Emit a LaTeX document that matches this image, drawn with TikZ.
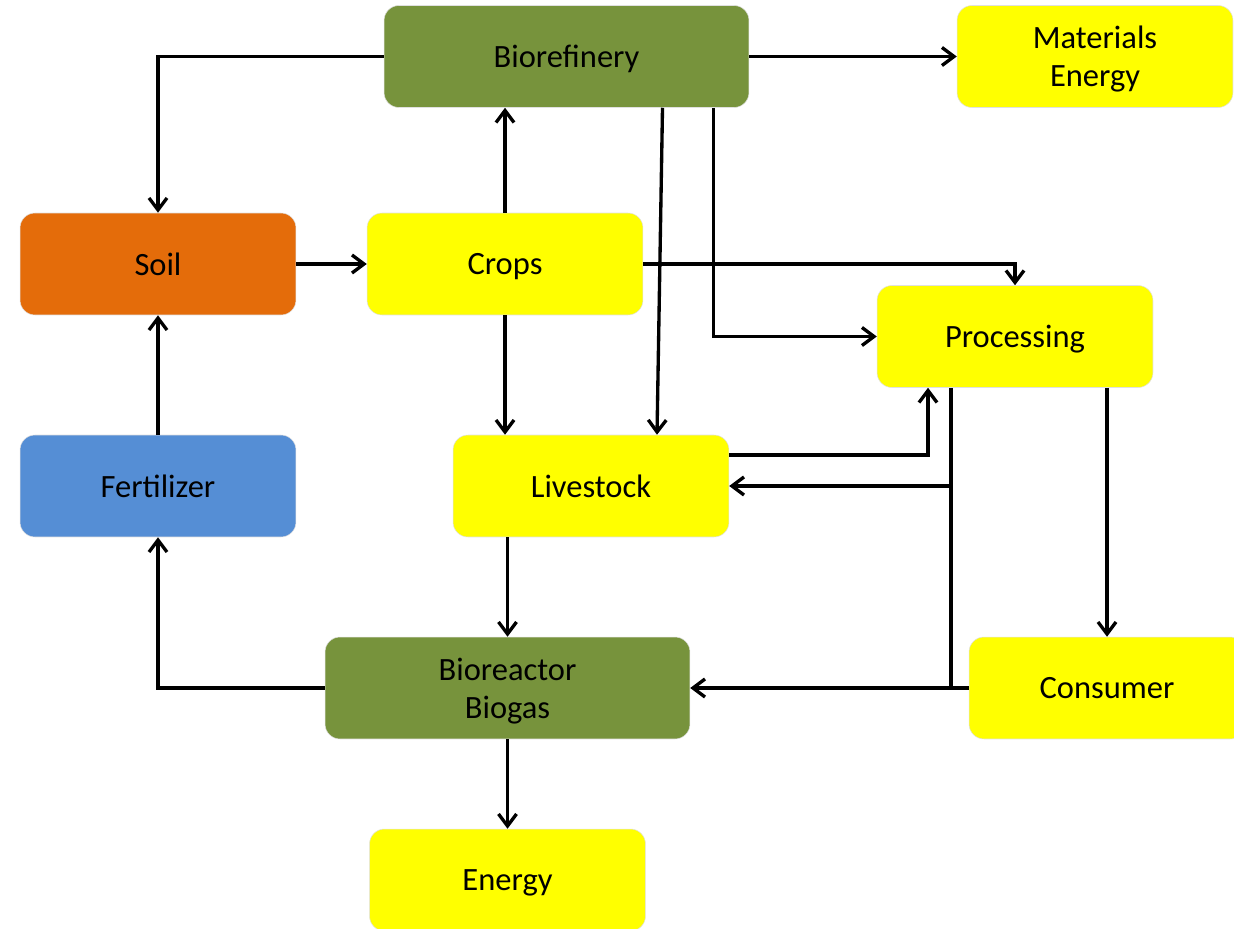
\documentclass[tikz,border=0pt]{standalone}
\usepackage{fontspec}
\setmainfont{Carlito}
\usepackage{xcolor}
\usepackage{tikz}
\usetikzlibrary{arrows.meta, positioning, calc}

\definecolor{leafgreen}{HTML}{77933C}
\definecolor{soilorange}{HTML}{E46C0A}
\definecolor{fertblue}{HTML}{558ED5}
\definecolor{flowyellow}{HTML}{FFFF00}

\begin{document}
\begin{tikzpicture}[
  x=0.02cm, y=-0.02cm,
  box/.style={rectangle, draw=black!12, line width=0.3pt, fill=flowyellow, rounded corners=0.3cm, minimum width=5.52cm, minimum height=2.04cm, align=center, text depth=0pt, font=\fontsize{18.5}{21.6}\selectfont},
  widebox/.style={box, minimum width=7.3cm},
  arrow/.style={-{Straight Barb[length=2.4mm, width=3.6mm, line width=1.9pt]}, line width=1.9pt, draw=black},
  link/.style={line width=1.9pt, draw=black}
]
\useasboundingbox (0,0) rectangle (1234,929);
\clip (0,0) rectangle (1234,929);

% Nodes
\node[widebox, fill=leafgreen] (biorefinery) at (566.5,56.5) {Biorefinery};
\node[box] (materials) at (1095,56.5) {Materials\\Energy};
\node[box, fill=soilorange] (soil) at (158,264) {Soil};
\node[box] (crops) at (505,264) {Crops};
\node[box] (processing) at (1015,336.5) {Processing};
\node[box, fill=fertblue] (fertilizer) at (158,486) {Fertilizer};
\node[box] (livestock) at (591,486) {Livestock};
\node[widebox, fill=leafgreen] (bioreactor) at (507.5,688) {Bioreactor\\Biogas};
\node[box] (consumer) at (1107,688) {Consumer};
\node[box] (energy) at (507.5,880) {Energy};

\coordinate (split) at ($(processing.south)+(-64,0)$);

% Arrows
\draw[arrow] (biorefinery.west) -| (soil.north);
\draw[arrow] (biorefinery) -- (materials);
\draw[arrow] (soil) -- (crops);
\draw[arrow] (fertilizer) -- (soil);
\draw[arrow] (crops.north) -- (crops.north |- biorefinery.south);
\draw[arrow] (crops.south) -- (crops.south |- livestock.north);
\draw[arrow] ($(biorefinery.south)+(96,0)$) -- ($(livestock.north)+(66,0)$);
\draw[arrow] ($(biorefinery.south east)+(-36,0)$) |- (processing.west);
\draw[arrow] (crops.east) -| (processing.north);
\draw[arrow] ($(livestock.east)+(0,-31)$) -| ($(processing.south)+(-87,0)$);
\draw[arrow] (split) |- (bioreactor.east);
\draw[arrow] (split |- livestock.east) -- (livestock.east);
\draw[link] (consumer.west) -- (split |- consumer.west);
\draw[arrow] (consumer.north |- processing.south) -- (consumer.north);
\draw[arrow] (bioreactor.north |- livestock.south) -- (bioreactor.north);
\draw[arrow] (bioreactor.west) -| (fertilizer.south);
\draw[arrow] (bioreactor.south) -- (energy.north);

\end{tikzpicture}
\end{document}
